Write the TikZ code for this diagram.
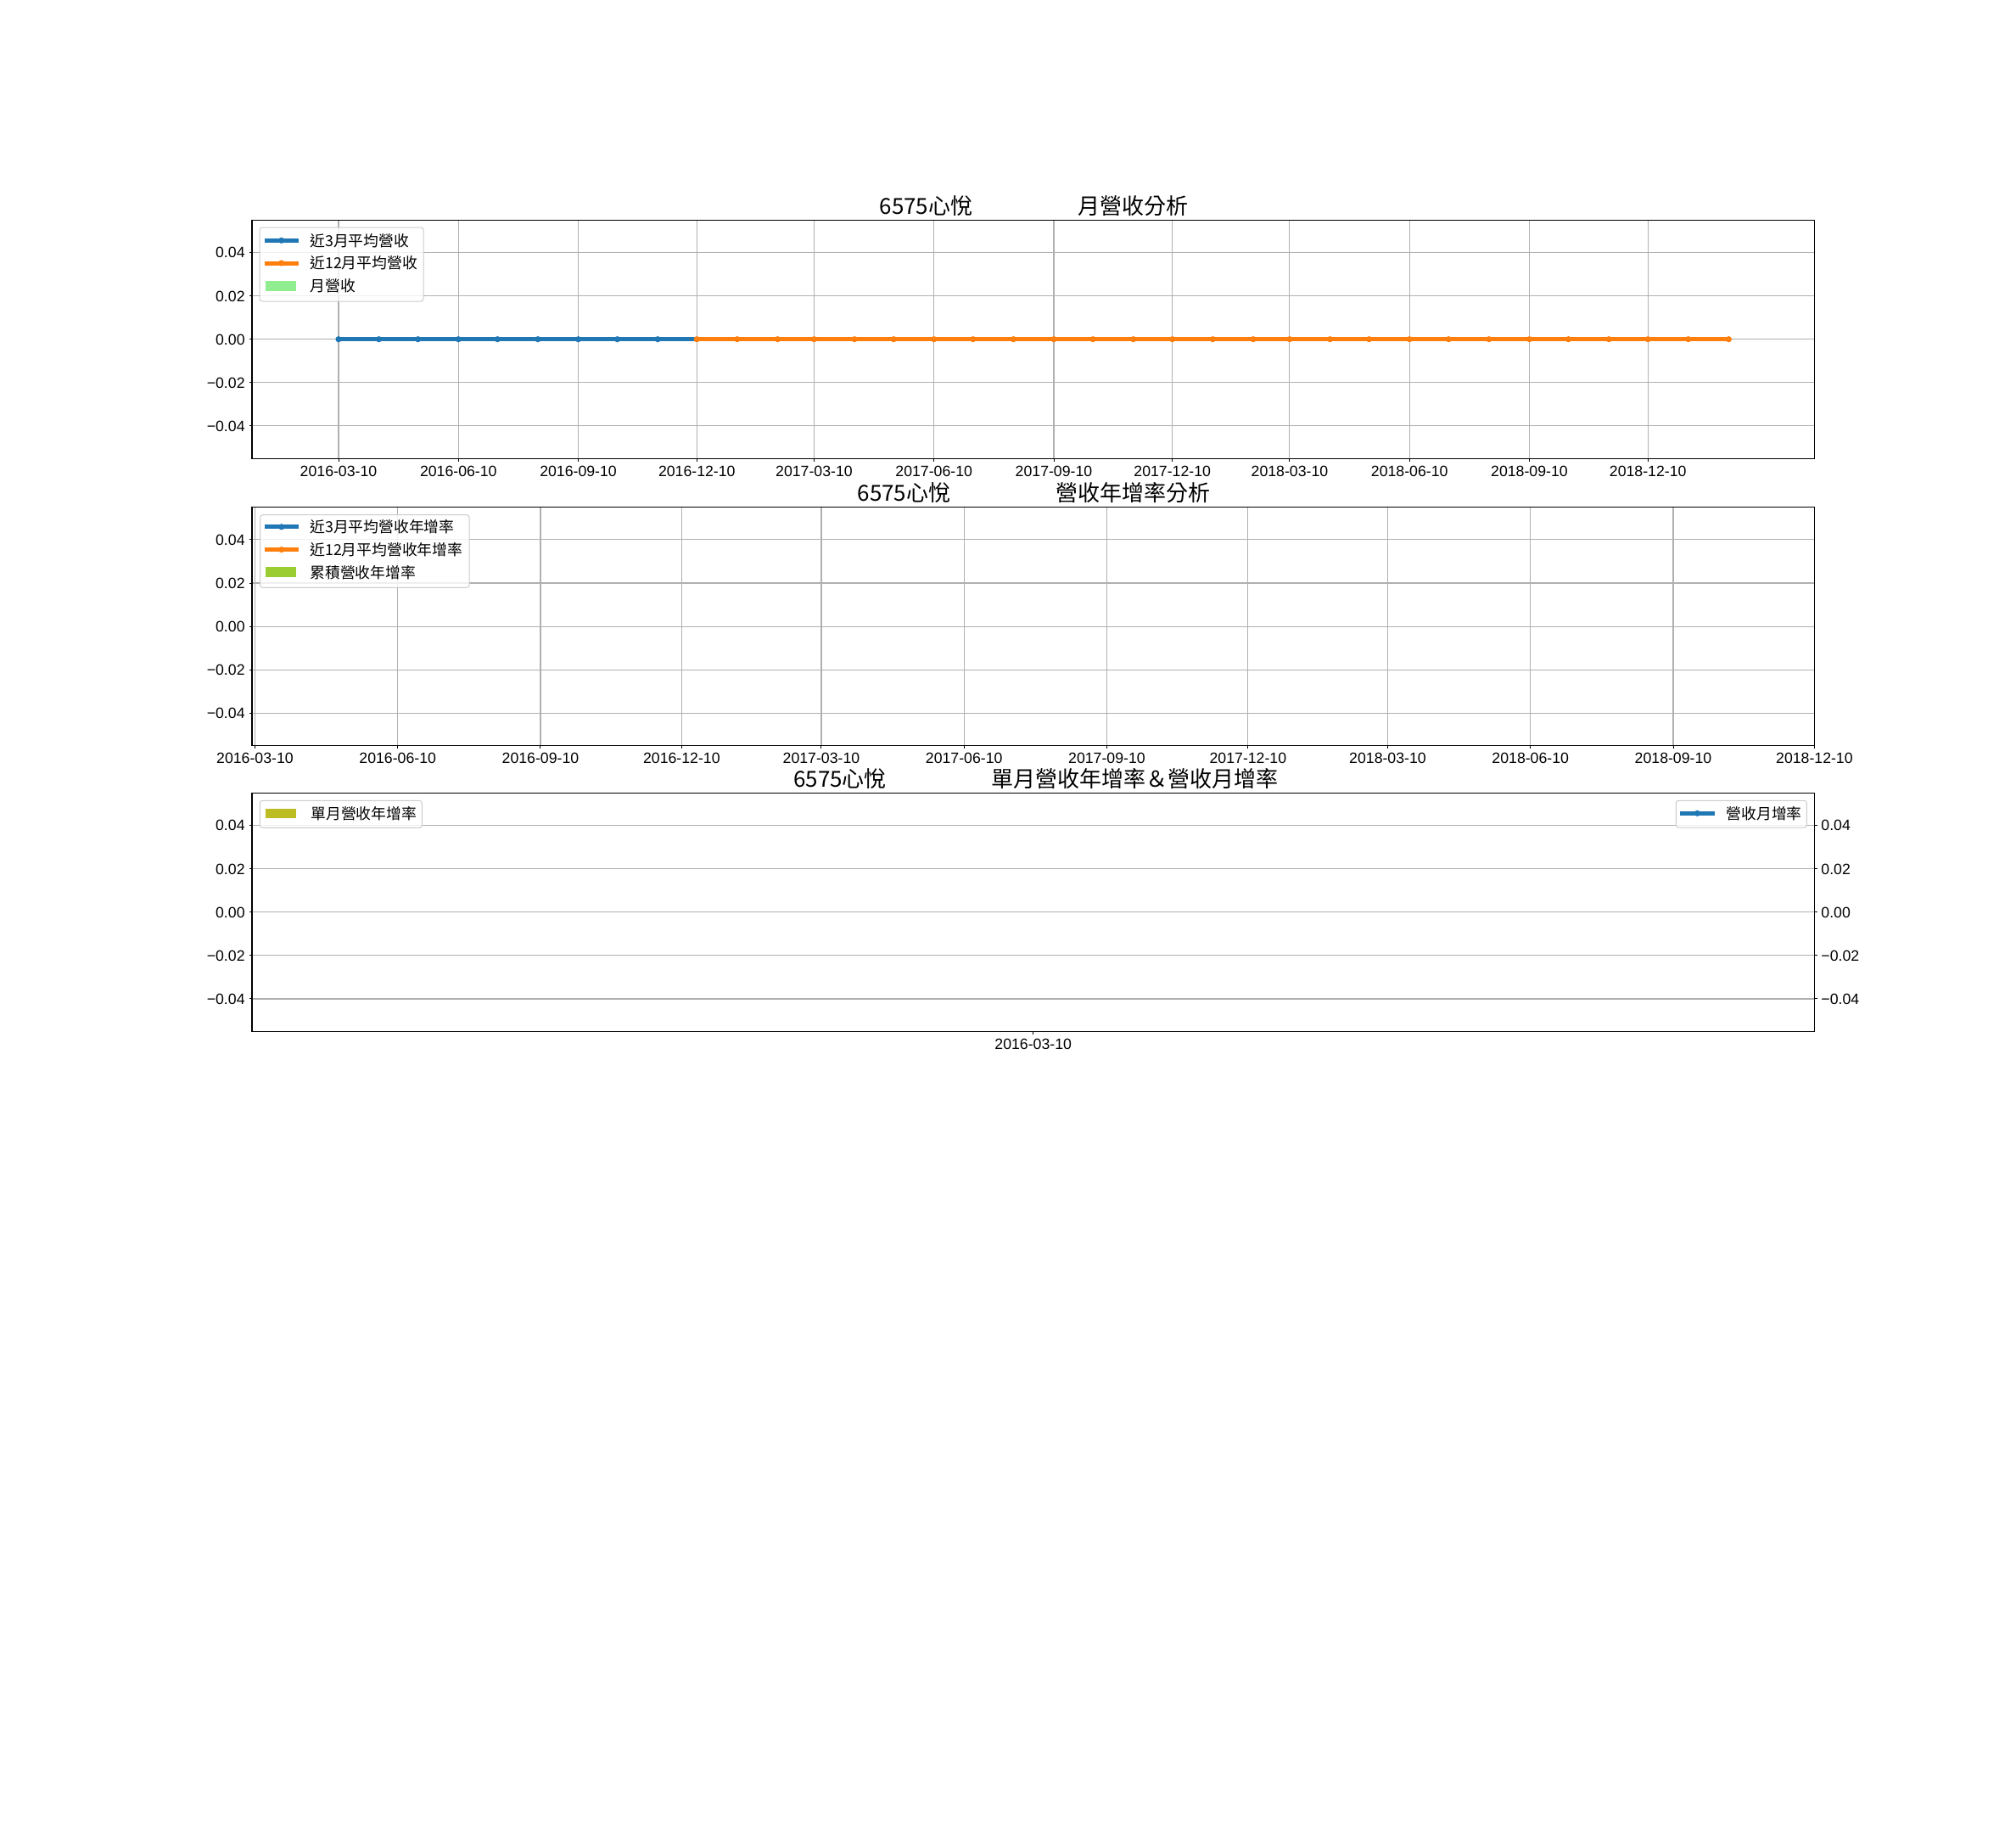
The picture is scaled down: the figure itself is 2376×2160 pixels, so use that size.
\documentclass[tikz,border=0pt]{standalone}
\usepackage{fontspec}
\setmainfont{Liberation Sans}
\newfontfamily\cjk{Noto Sans CJK TC}
\definecolor{mblue}{HTML}{1F77B4}
\definecolor{morange}{HTML}{FF7F0E}
\definecolor{mlgreen}{HTML}{90EE90}
\definecolor{myg}{HTML}{9ACD32}
\definecolor{molive}{HTML}{BCBD22}
\definecolor{mgrid}{HTML}{B0B0B0}
\definecolor{mleg}{HTML}{CCCCCC}
\tikzset{
 gridline/.style={draw=mgrid, line width=0.55pt},
 spine/.style={draw=black, line width=0.6pt},
 tickmark/.style={draw=black, line width=0.5pt},
 ticklab/.style={font=\fontsize{8.85pt}{10pt}\selectfont, inner sep=0pt},
 titlelab/.style={font=\cjk\fontsize{13pt}{15pt}\selectfont, inner sep=0pt, anchor=base},
 leglab/.style={font=\cjk\fontsize{8.9pt}{10pt}\selectfont, inner sep=0pt, anchor=base west},
 legbox/.style={draw=mleg, fill=white, fill opacity=0.8, rounded corners=1.5pt, line width=0.5pt},
 series/.style={line width=2.5pt},
 handle/.style={line width=2.5pt},
 dotmark/.style={circle, inner sep=0pt, minimum size=3.6pt}
}
\begin{document}
\begin{tikzpicture}[x=0.5pt,y=-0.5pt]
\fill[white] (0,0) rectangle (2376,2160);
\useasboundingbox (0,0) rectangle (2376,2160);
\def\Lx{297}\def\Rx{2138.4}
% ================= Axes 1 =================
\def\Ta{259.2}\def\Ba{540.2}\def\Ca{399.7}
\foreach \v in {-2,...,2} \draw[gridline] (\Lx,{\Ca-51.09*\v}) -- (\Rx,{\Ca-51.09*\v});
\foreach \d/\lab [count=\i] in {0/2016-03-10,92/2016-06-10,184/2016-09-10,275/2016-12-10,365/2017-03-10,457/2017-06-10,549/2017-09-10,640/2017-12-10,730/2018-03-10,822/2018-06-10,914/2018-09-10,1005/2018-12-10}{
  \draw[gridline] ({399+1.5355*\d},\Ta) -- ({399+1.5355*\d},\Ba);
  \draw[tickmark] ({399+1.5355*\d},\Ba) -- ++(0,3.5);
  \node[ticklab,anchor=base] (xa\i) at ({399+1.5355*\d},{\Ba+21.2}) {\lab};
}
\foreach \v/\lab [count=\i] in {2/0.04,1/0.02,0/0.00,-1/−0.02,-2/−0.04}{
  \draw[tickmark] (\Lx,{\Ca-51.09*\v}) -- ++(-3.5,0);
  \node[ticklab,anchor=base east] (ya\i) at ({\Lx-8},{\Ca-51.09*\v+6.4}) {\lab};
}
% series
\draw[series,mblue] (399,\Ca) -- ({399+1.5355*275},\Ca);
\foreach \d in {0,31,61,92,122,153,184,214,245}
  \node[dotmark,fill=mblue] (ba\d) at ({399+1.5355*\d},\Ca) {};
\draw[series,morange] ({399+1.5355*275},\Ca) -- ({399+1.5355*1067},\Ca);
\foreach \d in {275,306,337,365,396,426,457,487,518,549,579,610,640,671,702,730,761,791,822,852,883,914,944,975,1005,1036,1067}
  \node[dotmark,fill=morange] (oa\d) at ({399+1.5355*\d},\Ca) {};
\draw[spine] (\Lx,\Ta) rectangle (\Rx,\Ba);
% legend
\draw[legbox] (306,268) rectangle (499,355);
\draw[handle,mblue] (311.6,283.3) -- (351.8,283.3);
\node[dotmark,fill=mblue] (la1) at (331.7,283.3) {};
\node[leglab] (lt1) at (365,{283.3+6.8}) {近3月平均營收};
\draw[handle,morange] (311.6,310) -- (351.8,310);
\node[dotmark,fill=morange] (la2) at (331.7,310) {};
\node[leglab] (lt2) at (365,{310+6.8}) {近12月平均營收};
\fill[mlgreen] (313,331) rectangle (349,342.5);
\node[leglab] (lt3) at (365,{336.7+6.8}) {月營收};
\node[titlelab] (title1) at (1218.5,252.5) {6575心悅\hspace{62pt}月營收分析};
% ================= Axes 2 =================
\def\Tb{597.8}\def\Bb{878.4}\def\Cb{738.1}
\foreach \v in {-2,...,2} \draw[gridline] (\Lx,{\Cb-51.09*\v}) -- (\Rx,{\Cb-51.09*\v});
\foreach \d/\lab [count=\i] in {0/2016-03-10,92/2016-06-10,184/2016-09-10,275/2016-12-10,365/2017-03-10,457/2017-06-10,549/2017-09-10,640/2017-12-10,730/2018-03-10,822/2018-06-10,914/2018-09-10,1005/2018-12-10}{
  \draw[gridline] ({2138.4-1.8288*(1005-\d)},\Tb) -- ({2138.4-1.8288*(1005-\d)},\Bb);
  \draw[tickmark] ({2138.4-1.8288*(1005-\d)},\Bb) -- ++(0,3.5);
  \node[ticklab,anchor=base] (xb\i) at ({2138.4-1.8288*(1005-\d)},{\Bb+21.2}) {\lab};
}
\foreach \v/\lab [count=\i] in {2/0.04,1/0.02,0/0.00,-1/−0.02,-2/−0.04}{
  \draw[tickmark] (\Lx,{\Cb-51.09*\v}) -- ++(-3.5,0);
  \node[ticklab,anchor=base east] (yb\i) at ({\Lx-8},{\Cb-51.09*\v+6.4}) {\lab};
}
\draw[spine] (\Lx,\Tb) rectangle (\Rx,\Bb);
\draw[legbox] (306.7,606.7) rectangle (553,692.3);
\draw[handle,mblue] (311.6,620.8) -- (351.8,620.8);
\node[dotmark,fill=mblue] (lb1) at (331.7,620.8) {};
\node[leglab] (lbt1) at (365,{620.8+6.8}) {近3月平均營收年增率};
\draw[handle,morange] (311.6,647.6) -- (351.8,647.6);
\node[dotmark,fill=morange] (lb2) at (331.7,647.6) {};
\node[leglab] (lbt2) at (365,{647.6+6.8}) {近12月平均營收年增率};
\fill[myg] (313,668.4) rectangle (349,680.2);
\node[leglab] (lbt3) at (365,{674.3+6.8}) {累積營收年增率};
\node[titlelab] (title2) at (1218.5,590.8) {6575心悅\hspace{62pt}營收年增率分析};
% ================= Axes 3 =================
\def\Tc{934.3}\def\Bc{1215.2}\def\Cc{1074.75}
\foreach \v in {-2,...,2} \draw[gridline] (\Lx,{\Cc-51.09*\v}) -- (\Rx,{\Cc-51.09*\v});
\draw[tickmark] (1217.7,\Bc) -- ++(0,3.5);
\node[ticklab,anchor=base] (xc1) at (1217.7,{\Bc+21.2}) {2016-03-10};
\foreach \v/\lab [count=\i] in {2/0.04,1/0.02,0/0.00,-1/−0.02,-2/−0.04}{
  \draw[tickmark] (\Lx,{\Cc-51.09*\v}) -- ++(-3.5,0);
  \node[ticklab,anchor=base east] (yc\i) at ({\Lx-8},{\Cc-51.09*\v+6.4}) {\lab};
  \draw[tickmark] (\Rx,{\Cc-51.09*\v}) -- ++(3.5,0);
  \node[ticklab,anchor=base west] (yd\i) at ({\Rx+7.6},{\Cc-51.09*\v+6.4}) {\lab};
}
\draw[spine] (\Lx,\Tc) rectangle (\Rx,\Bc);
\draw[legbox] (306.3,943.3) rectangle (497.3,975.3);
\fill[molive] (313,952.6) rectangle (349,964);
\node[leglab] (lct1) at (366,{958.3+6.8}) {單月營收年增率};
\draw[legbox] (1975.3,943.3) rectangle (2129.3,975.1);
\draw[handle,mblue] (1980,958.3) -- (2020.7,958.3);
\node[dotmark,fill=mblue] (ld1) at (2000.3,958.3) {};
\node[leglab] (ldt1) at (2034.3,{958.3+6.8}) {營收月增率};
\node[titlelab] (title3) at (1221,927.8) {6575心悅\hspace{62pt}單月營收年增率＆營收月增率};
\end{tikzpicture}
\end{document}
